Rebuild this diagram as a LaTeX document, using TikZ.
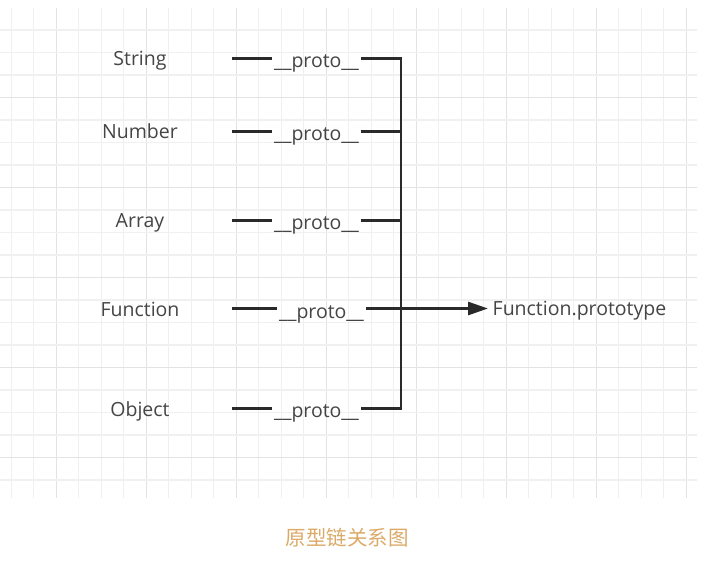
\documentclass[tikz,border=0pt]{standalone}
\usepackage{fontspec}
\setmainfont{Open Sans}
\newfontfamily\cjk{Noto Sans CJK SC}
\usetikzlibrary{arrows.meta}
\definecolor{gridminor}{HTML}{F0F0F0}
\definecolor{gridmajor}{HTML}{E3E3E3}
\definecolor{ink}{HTML}{2A2A2A}
\definecolor{txt}{HTML}{454545}
\definecolor{capcol}{HTML}{DCAA68}
\tikzset{
  lbl/.style={font=\fontsize{19.5}{22}\selectfont, text=txt, anchor=base, inner sep=0pt},
  protolbl/.style={font=\fontsize{19.5}{22}\selectfont, text=txt, anchor=base, inner xsep=1.5pt, inner ysep=0pt},
  link/.style={draw=ink, line width=2.8pt},
  gminor/.style={draw=gridminor, line width=1.1pt},
  gmajor/.style={draw=gridmajor, line width=1.1pt}
}
\begin{document}
\begin{tikzpicture}[x=1pt,y=-1pt]
\fill[white] (0,0) rectangle (706,564);
\useasboundingbox (0,0) rectangle (706,564);
% grid
\foreach \k in {0,...,30}{
  \pgfmathsetmacro\xx{11.25+22.5*\k}
  \pgfmathtruncatemacro\m{mod(\k,4)}
  \ifnum\m=2 \draw[gmajor] (\xx,8) -- (\xx,498); \else \draw[gminor] (\xx,8) -- (\xx,498); \fi
}
\foreach \k in {1,...,21}{
  \pgfmathsetmacro\yy{7.5+22.5*\k}
  \pgfmathtruncatemacro\m{mod(\k,4)}
  \ifnum\m=0 \draw[gmajor] (0,\yy) -- (697,\yy); \else \draw[gminor] (0,\yy) -- (697,\yy); \fi
}
% labels
\node[lbl] (string) at (140,66) {String};
\node[lbl] (number) at (140,139) {Number};
\node[lbl] (array) at (140,227.5) {Array};
\node[lbl] (function) at (140,316) {Function};
\node[lbl] (object) at (140,416) {Object};
% row coordinates
\coordinate (s0) at (232,58.5);
\coordinate (n0) at (232,131.5);
\coordinate (a0) at (232,220.2);
\coordinate (f0) at (232,308.5);
\coordinate (o0) at (232,408.5);
\coordinate (sb) at (401,58.5);
\coordinate (nb) at (401,131.5);
\coordinate (ab) at (401,220.2);
\coordinate (ob) at (401,408.5);
% proto labels
\node[protolbl] (ps) at (316.5,67.8) {\_\_proto\_\_};
\node[protolbl] (pn) at (316.5,140.8) {\_\_proto\_\_};
\node[protolbl] (pa) at (316.5,229.3) {\_\_proto\_\_};
\node[protolbl] (pf) at (321.5,318) {\_\_proto\_\_};
\node[protolbl] (po) at (316.5,417.8) {\_\_proto\_\_};
% target
\node[font=\fontsize{19.5}{22}\selectfont, text=txt, anchor=base west, inner xsep=4.5pt, inner ysep=0pt] (fp) at (488,315.5) {Function.prototype};
% connectors
\draw[link] (s0) -- (ps.west |- s0);
\draw[link] (n0) -- (pn.west |- n0);
\draw[link] (a0) -- (pa.west |- a0);
\draw[link] (f0) -- (pf.west |- f0);
\draw[link] (o0) -- (po.west |- o0);
\draw[link, line join=miter] (ps.east |- s0) -- (sb) -- (ob) -- (po.east |- o0);
\draw[link] (pn.east |- n0) -- (nb);
\draw[link] (pa.east |- a0) -- (ab);
\draw[link, -{Triangle[length=20pt,width=13pt]}] (pf.east |- f0) -- (fp.west |- f0);
% caption
\node[font=\cjk\fontsize{20.5}{24}\selectfont, text=capcol] (caption) at (347,538) {原型链关系图};
\end{tikzpicture}
\end{document}
